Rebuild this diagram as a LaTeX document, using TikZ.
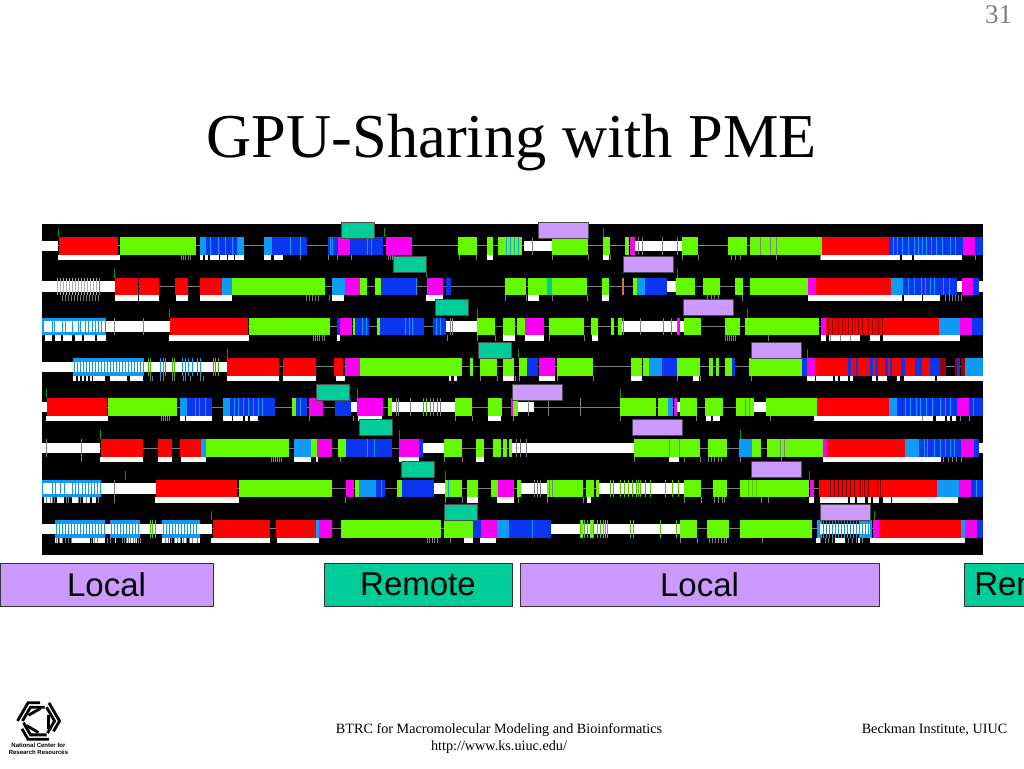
\documentclass[tikz,border=0pt]{standalone}
\usepackage{fontspec}
\setmainfont{Liberation Serif}
\setsansfont{Liberation Sans}
\usetikzlibrary{positioning}
\definecolor{barred}{HTML}{FF0000}
\definecolor{bargreen}{HTML}{66FA00}
\definecolor{barblue}{HTML}{0A36F0}
\definecolor{barsky}{HTML}{0F9BF5}
\definecolor{barpink}{HTML}{FA00F0}
\definecolor{tagteal}{HTML}{00CC99}
\definecolor{taglilac}{HTML}{CC99FF}
\definecolor{numgrey}{HTML}{808080}
% y is the top of a row, all bars are 17.5 high
\newcommand{\rowsegs}[3]{\foreach \xa/\xb in {#3} \fill[#2] (\xa,#1) rectangle (\xb,#1+17.5);}
\newcommand{\rowband}[2]{\foreach \xa/\xb in {#2} \fill[white] (\xa,#1+3.5) rectangle (\xb,#1+14);}
\newcommand{\rowwhite}[2]{\foreach \xa/\xb in {#2} \fill[white] (\xa,#1+17.5) rectangle (\xb,#1+23);}
\newcommand{\rowlines}[3]{\foreach \xa in {#3} \draw[#2,line width=1] (\xa,#1) -- (\xa,#1+17.5);}
\newcommand{\rowticks}[2]{\foreach \xa in {#2} \draw[gray,line width=0.8] (\xa,#1+17.5) -- (\xa,#1+23);}
\newcommand{\rowmark}[2]{\draw[green!60!black,line width=0.7] (#2,#1-9) -- (#2,#1);}
\newcommand{\rowthread}[1]{\draw[gray,line width=0.8] (42,#1+8.75) -- (983,#1+8.75);}
\begin{document}
\begin{tikzpicture}[x=1pt,y=-1pt]
    \tikzstyle{remotetag}=[shape=rectangle,draw=black!70,fill=tagteal,line width=0.4,minimum width=33pt,minimum height=16pt,inner sep=0pt]
    \tikzstyle{localtag}=[shape=rectangle,draw=black!70,fill=taglilac,line width=0.4,minimum width=50pt,minimum height=16pt,inner sep=0pt]
    \tikzstyle{legendbox}=[shape=rectangle,draw=black!80,line width=0.6,minimum height=43pt,inner sep=0pt,font=\sffamily\fontsize{33}{33}\selectfont]

    \useasboundingbox (0,0) rectangle (1024,768);
    \fill[white] (0,0) rectangle (1024,768);

    \node[text=numgrey,font=\fontsize{27}{27}\selectfont] (pagenum) at (998.5,15) {31};
    \node[anchor=base,inner sep=0pt,font=\fontsize{62.4}{62.4}\selectfont] (title) at (512,157) {GPU-Sharing with PME};

    \fill[black] (42,224) rectangle (983,555);

    % row 1
    \rowthread{237}
    \rowband{237}{42/58,524/552,635/682}
    \rowsegs{237}{barred}{59/118,822/889}
    \rowsegs{237}{bargreen}{120/196,458/477,487/493,498/522,552/588,603/610,625/629,682/698,728/747,750/822}
    \rowsegs{237}{barblue}{200/244,264/307,328/383,889/963,975/983}
    \rowsegs{237}{barsky}{200/206,237/244,264/272}
    \rowsegs{237}{barpink}{338/350,386/412,630/635,963/975}
    \rowlines{237}{barsky}{210,218,225,232,290,300,330,332,367,371,506,510,514,518,893,897,902,908,914,918,922,926,931,936,942,950,955}
    \rowlines{237}{gray}{532,638,642,662,677,760,770,776}
    \rowwhite{237}{58/120,200/203,205/208,210/219,220/227,228/234,235/244,264/271,274/283,487/493,603/609,820/900,902/912,914/962}
    \rowticks{237}{181,183,185,188,190,300,328,337,351,388,390,392,395,459,476,552,588,610,682,698,731,735,740,776,820,975}
    \rowmark{237}{58}\rowmark{237}{384}\rowmark{237}{603}

    % row 2
    \rowthread{277.7}
    \rowband{277.7}{42/115,667/676,957/962,979/983}
    \rowlines{277.7}{gray!60}{57,60,...,96}
    \rowlines{277.7}{barsky}{99}
    \rowsegs{277.7}{barred}{115/138,139/159,175/188,200/222,816/891}
    \rowsegs{277.7}{barsky}{222/232,332/345,637/645,891/903}
    \rowsegs{277.7}{bargreen}{232/325,360/367,375/381,505/526,528/547,552/587,602/609,633/637,676/695,703/720,735/743,750/808}
    \rowsegs{277.7}{tagteal}{547/552}
    \rowsegs{277.7}{barblue}{381/417,446/451,645/667,903/957,973/979}
    \rowsegs{277.7}{barpink}{345/360,427/443,808/816,962/973}
    \rowsegs{277.7}{gray!50!orange}{622/624}
    \rowlines{277.7}{barsky}{416,642,908,914,921,925,930,934,943,949}
    \rowwhite{277.7}{115/138,139/159,176/188,200/232,332/344,426/443,528/539,602/609,808/902,904/922,923/940}
    \rowticks{277.7}{62,65,68,71,74,77,80,83,86,89,92,95,98,306,309,312,315,318,329,505,526,552,587,707,711,714,718,742,945,949,952,955,958,961}
    \rowmark{277.7}{114}\rowmark{277.7}{426}\rowmark{277.7}{677}

    % row 3
    \rowthread{317.7}
    \rowsegs{317.7}{barsky}{42/106}
    \rowband{317.7}{44/105,106/170,446/478,622/684}
    \rowlines{317.7}{barsky}{52,54,62,65,72,78,80,85,88,92,95,98,101}
    \rowlines{317.7}{gray}{114,143,450,452,620,623,640,663,671,677}
    \rowsegs{317.7}{barred}{170/248,826/939}
    \rowsegs{317.7}{bargreen}{249/330,353/355,377/380,477/495,503/515,517/525,549/584,591/598,611/614,618/622,684/701,725/740,745/819}
    \rowsegs{317.7}{barblue}{337/340,355/369,380/424,433/446,972/983}
    \rowsegs{317.7}{barpink}{340/352,525/544,821/826,678/680,960/972}
    \rowsegs{317.7}{barsky}{939/960}
    \rowlines{317.7}{barsky}{362,366,405,409,412,436,440}
    \rowlines{317.7}{red!50!black}{828,832,835,838,842,845,848,852,855,858,862,868,872,875,878,882}
    \rowwhite{317.7}{45/52,55/61,63/72,75/82,84/95,97/106,169/249,337/340,503/515,525/544,592/598,821/826,829/860,870/880,883/960}
    \rowticks{317.7}{313,315,317,319,322,324,447,477,495,549,584,725,727,729,731,733,735,768,830,840,850}
    \rowmark{317.7}{169}\rowmark{317.7}{477}\rowmark{317.7}{747}

    % row 4
    \rowthread{358}
    \rowsegs{358}{barsky}{73/143}
    \rowband{358}{42/227,560/567}
    \rowlines{358}{barsky}{74,77,...,143}
    \rowlines{358}{barsky}{160,163,165,172,182,185,188,192,197,200}
    \rowlines{358}{bargreen!70!black}{148,150,172,174,213,215,218}
    \rowsegs{358}{barred}{227/279,283/316,334/343,815/848}
    \rowsegs{358}{barblue}{527/538,661/677,732/735,802/807}
    \rowsegs{358}{bargreen}{360/462,470/473,480/497,503/514,519/527,557/593,631/642,643/649,677/700,709/713,716/719,725/732,749/802}
    \rowsegs{358}{barsky}{649/662}
    \rowsegs{358}{barpink}{345/360,539/555,807/815}
    \rowsegs{358}{barred}{848/930}
    \rowsegs{358}{barblue}{848/851,856/858,870/873,876/878,885/888,890/892,901/905,915/922,930/945,955/960}
    \rowsegs{358}{barred!60!black}{940/946,955/957,961/965}
    \rowsegs{358}{barsky}{965/983}
    \rowwhite{358}{73/76,78/80,82/84,86/88,90/92,93/105,110/127,130/143,227/279,283/316,336/345,449/451,454/457,503/514,539/555,631/642,693/699,807/815,816/833,835/838,840/848,850/853,872/876,878/887,897/900,904/935,937/983}
    \rowticks{358}{150,152,160,163,172,174,183,185,190,200,203,480,497,515,519,557,593,677,700,751}
    \rowmark{358}{227}\rowmark{358}{518}\rowmark{358}{807}

    % row 5
    \rowthread{398.3}
    \rowband{398.3}{42/47,351/357,392/455,518/534,677/680,754/766}
    \rowlines{398.3}{gray}{396,398,410,423,426,430,433,437,440}
    \rowlines{398.3}{bargreen!80!black}{426,389}
    \rowsegs{398.3}{barred}{47/107,817/889}
    \rowsegs{398.3}{bargreen}{108/177,292/296,388/392,455/472,488/502,513/518,620/656,658/668,680/697,705/723,736/754,766/817}
    \rowsegs{398.3}{barsky}{180/187,223/230,668/673,889/897}
    \rowsegs{398.3}{barblue}{187/212,230/275,296/307,335/351,897/957,969/983}
    \rowsegs{398.3}{barpink}{309/323,357/383,511/513,674/677,957/969}
    \rowlines{398.3}{barsky}{195,199,205,234,238,243,248,253,258,262,300,905,910,916,920,926,932,940,945,950,973}
    \rowlines{398.3}{gray}{528,548,580,745,749}
    \rowwhite{398.3}{46/108,180/185,186/212,223/232,233/243,245/248,250/258,358/382,488/501,706/711,713/720,814/922,923/933,936/945,947/950,952/956}
    \rowticks{398.3}{161,163,165,167,169,309,353,455,472,513,620,696,770,922,960,969}
    \rowmark{398.3}{46}\rowmark{398.3}{357}\rowmark{398.3}{620}

    % row 6
    \rowthread{439.3}
    \rowband{439.3}{42/100,423/444,510/634,979/983}
    \rowlines{439.3}{gray}{46,81,516,520,526}
    \rowsegs{439.3}{barred}{101/143,158/172,180/201,827/905}
    \rowsegs{439.3}{barsky}{201/206,294/311,739/752,905/919}
    \rowsegs{439.3}{bargreen}{206/289,311/317,338/346,444/462,476/484,493/501,503/507,509/512,634/700,708/727,752/761,767/823}
    \rowsegs{439.3}{barblue}{346/392,419/423,919/961,974/979}
    \rowsegs{439.3}{barpink}{317/332,399/419,823/827,961/974}
    \rowlines{439.3}{barsky}{367,374,924,927,934,940,945,950,954}
    \rowlines{439.3}{gray}{669,679,780,784}
    \rowwhite{439.3}{100/143,158/172,181/206,294/311,316/318,399/419,476/484,669/679,823/941}
    \rowticks{439.3}{81,271,273,275,277,279,281,340,444,462,634,684,700,708,711,714,718,721,740,781,943,948,952,956,961}
    \rowmark{439.3}{100}\rowmark{439.3}{399}\rowmark{439.3}{740}

    % row 7
    \rowthread{479.7}
    \rowsegs{479.7}{barsky}{42/101}
    \rowband{479.7}{43/100,101/156,434/445,521/547,599/684}
    \rowlines{479.7}{barsky}{52,55,60,64,72,75,78,82,85,88,91,94,97}
    \rowsegs{479.7}{barred}{156/237,819/937}
    \rowsegs{479.7}{bargreen}{239/332,355/359,397/402,445/462,467/478,491/498,517/521,547/583,586/594,596/599,684/701,713/727,740/809}
    \rowsegs{479.7}{barsky}{359/376,937/959}
    \rowsegs{479.7}{barblue}{376/385,402/434,971/983}
    \rowsegs{479.7}{barpink}{346/354,498/514,810/814,959/971}
    \rowlines{479.7}{barsky}{365,369,381,448,976}
    \rowlines{479.7}{gray}{114,534,537,540,549,552}
    \rowlines{479.7}{bargreen!80!black}{610,613,620,624,628,632,636,638,640,645,650,665,672,678,748,752,756}
    \rowlines{479.7}{red!40!black}{830,834,838,842,846,850,854,860,864,868,877,880}
    \rowwhite{479.7}{44/52,57/64,72/78,83/90,92/96,155/239,467/478,497/514,587/591,809/814,820/848,850/855,857/865,868/871,873/879,883/891,892/958}
    \rowticks{479.7}{46,50,52,54,66,68,78,80,86,98,114,345,445,462,518,547,583,684,701,714,718,722,724,761,768}
    \rowmark{479.7}{125}\rowmark{479.7}{445}\rowmark{479.7}{809}

    % row 8
    \rowthread{520}
    \rowsegs{520}{barsky}{55/105,110/140,162/200}
    \rowband{520}{42/212,551/680,867/872}
    \rowsegs{520}{barsky}{817/822,860/872}
    \rowband{520}{820/870}
    \rowlines{520}{barsky}{56,59,...,104}
    \rowlines{520}{barsky}{111,114,...,140}
    \rowlines{520}{barsky}{163,166,...,198}
    \rowlines{520}{bargreen!80!black}{150,152,155,580,584,587,590,593,597,600,603,605,607,630,633,660,676}
    \rowlines{520}{barsky}{823,826,...,870}
    \rowsegs{520}{barred}{213/270,276/316,879/961}
    \rowsegs{520}{bargreen}{341/441,444/473,680/697,707/729,740/812,581/583,590/593}
    \rowsegs{520}{barsky}{316/319,497/509,961/965}
    \rowsegs{520}{barblue}{473/481,509/551,977/983}
    \rowsegs{520}{barpink}{319/332,481/497,873/879,965/977}
    \rowlines{520}{barsky}{532}
    \rowwhite{520}{55/58,60/63,72/90,93/105,115/116,127/137,162/170,175/180,182/186,190/200,211/270,277/319,464/473,480/496,816/820,835/845,858/860,870/965}
    \rowticks{520}{56,59,62,65,68,71,91,94,97,107,110,122,124,126,128,130,133,135,138,140,165,168,171,174,177,180,183,186,189,192,197,427,429,432,434,437,450,680,697,709,712,715,718,721,724,726,762,820,825,828,832,848,852,856,862}
    \rowmark{520}{211}\rowmark{520}{450}\rowmark{520}{874}

    % tags sit on top of the rows
    \node[remotetag] (R1) at (358,230) {};
    \node[remotetag] (R2) at (409.5,264.3) {};
    \node[remotetag] (R3) at (452,307) {};
    \node[remotetag] (R4) at (495,350) {};
    \node[remotetag] (R5) at (333,392.3) {};
    \node[remotetag] (R6) at (375.5,426.7) {};
    \node[remotetag] (R7) at (418,469.3) {};
    \node[remotetag] (R8) at (461,512) {};
    \node[localtag] (L1) at (563,230) {};
    \node[localtag] (L2) at (648.5,264.3) {};
    \node[localtag] (L3) at (708,307) {};
    \node[localtag] (L4) at (776.5,350) {};
    \node[localtag] (L5) at (537.5,392.3) {};
    \node[localtag] (L6) at (657,426.7) {};
    \node[localtag] (L7) at (776.5,469.3) {};
    \node[localtag] (L8) at (845,512) {};

    \node[legendbox,fill=taglilac,minimum width=213pt] (B1) at (106.5,584.5) {Local};
    \node[legendbox,fill=tagteal,minimum width=188pt] (B2) at (418,584.5) {Remote};
    \node[legendbox,fill=taglilac,minimum width=359pt] (B3) at (699.5,584.5) {Local};
    \node[legendbox,fill=tagteal,minimum width=188pt,anchor=west,text width=178pt,align=left,inner xsep=10pt] (B4) at (964,584.5) {Remote};

    % logo
    \begin{scope}[shift={(38.5,721)}]
      \foreach \r in {0,120,240} {
        \foreach \k/\len in {21/12,16/14}
          \draw[line width=2.8,rotate=\r] (60:\k) -- (120:\k) -- ++(240:\len);
        \draw[line width=2.8,rotate=\r] (90:11.5) -- ++(210:14);
      }
    \end{scope}
    \node[font=\sffamily\bfseries\fontsize{6}{7}\selectfont,align=center,inner sep=0pt] (logotext) at (38.5,748.5) {National Center for\\Research Resources};

    \node[font=\fontsize{14.2}{14.2}\selectfont] (foot1) at (499,730) {BTRC for Macromolecular Modeling and Bioinformatics};
    \node[font=\fontsize{14.2}{14.2}\selectfont] (foot2) at (499,747) {http://www.ks.uiuc.edu/};
    \node[font=\fontsize{14.2}{14.2}\selectfont] (foot3) at (934.5,730) {Beckman Institute, UIUC};
\end{tikzpicture}
\end{document}
